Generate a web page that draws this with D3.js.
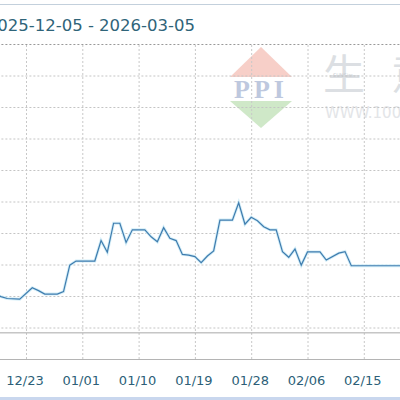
<!DOCTYPE html>
<html><head><meta charset="utf-8">
<script src="https://cdn.jsdelivr.net/npm/d3@7"></script>
<style>body{margin:0;background:#fff;overflow:hidden}</style></head>
<body>
<svg id="c" width="400" height="400"></svg>
<script>
const titleText = "2025-12-05 - 2026-03-05";
const dates = ["2025-12-17","2025-12-19","2025-12-20","2025-12-22","2025-12-24","2025-12-25","2025-12-26","2025-12-28","2025-12-29","2025-12-30","2025-12-31","2026-01-03","2026-01-04","2026-01-05","2026-01-06","2026-01-07","2026-01-08","2026-01-09","2026-01-11","2026-01-12","2026-01-13","2026-01-14","2026-01-15","2026-01-16","2026-01-17","2026-01-18","2026-01-19","2026-01-20","2026-01-21","2026-01-22","2026-01-23","2026-01-25","2026-01-26","2026-01-27","2026-01-28","2026-01-29","2026-01-30","2026-01-31","2026-02-01","2026-02-02","2026-02-03","2026-02-04","2026-02-05","2026-02-06","2026-02-08","2026-02-09","2026-02-11","2026-02-12","2026-02-13","2026-02-20","2026-03-05"];
const values = [4213,4198,4192,4190,4226,4217,4206,4206,4214,4298,4311,4311,4376,4339,4431,4431,4370,4410,4410,4388,4372,4417,4383,4376,4332,4330,4325,4306,4327,4343,4441,4441,4496,4428,4450,4439,4420,4410,4410,4341,4323,4349,4298,4340,4340,4314,4336,4341,4296,4296,4296];
const tickDates = ["2025-12-05","2025-12-14","2025-12-23","2026-01-01","2026-01-10","2026-01-19","2026-01-28","2026-02-06","2026-02-15","2026-02-24","2026-03-05"];
const yGrid = [4000,4100,4200,4300,4400,4500,4600,4700,4800,4900,5000];
const refValue = 4083;

const parse = d3.timeParse("%Y-%m-%d");
const fmt = d3.timeFormat("%m/%d");
const svg = d3.select("#c");

const pLeft = -86.6, pRight = 476.4, pTop = 44, pBottom = 359;
const x = d3.scaleTime().domain([parse("2025-12-05"), parse("2026-03-05")]).range([pLeft, pRight]);
const y = d3.scaleLinear().domain([4000, 5000]).range([pBottom, pTop]);

// outer frame
svg.append("line").attr("x1",0).attr("x2",400).attr("y1",4.5).attr("y2",4.5).attr("stroke","#c3d0dc").attr("stroke-width",1);
svg.append("rect").attr("x",0).attr("y",397).attr("width",400).attr("height",3).attr("fill","#c9d7ee");

// title
svg.append("text").attr("x",195).attr("y",31).attr("text-anchor","end")
  .attr("font-family","DejaVu Sans").attr("font-size",16.5).attr("fill","#2f6479").text(titleText);

// watermark
const wm = svg.append("g").attr("opacity",0.55);
wm.append("path").attr("d","M261,47 L292,77 L230,77 Z").attr("fill","#f2a99c");
wm.append("path").attr("d","M230,101 L292,101 L261,128 Z").attr("fill","#a9d69c");
wm.append("text").attr("x",261).attr("y",98).attr("text-anchor","middle").attr("font-family","Liberation Serif")
  .attr("font-weight","bold").attr("font-size",26).attr("letter-spacing",4).attr("fill","#8a9cc4").text("PPI");
svg.append("text").attr("x",323).attr("y",90).attr("font-family","Noto Sans CJK SC").attr("font-size",42)
  .attr("letter-spacing",26).attr("fill","#dcdfe3").text("生意社");
svg.append("text").attr("x",333).attr("y",77).attr("font-family","DejaVu Sans").attr("font-size",5)
  .attr("fill","#c8ccd2").text("SUNSirs");
svg.append("text").attr("x",325).attr("y",118).attr("font-family","DejaVu Sans").attr("font-size",15)
  .attr("fill","#e3e5e8").text("WWW.100ppi.com");

// horizontal grid
const hg = svg.append("g").attr("transform",`translate(${pLeft},0)`)
  .call(d3.axisLeft(y).tickValues(yGrid).tickSize(-(pRight-pLeft)).tickFormat(""));
hg.select(".domain").remove();
hg.selectAll(".tick line").attr("stroke","#c4c4c4").attr("stroke-dasharray","2,2");
hg.selectAll(".tick").filter(d => d === 5000).select("line").attr("stroke","#999");
hg.selectAll(".tick").filter(d => d === 4000).select("line").attr("stroke","#b4b4b4").attr("stroke-dasharray",null);

// vertical grid
const vg = svg.append("g").attr("transform",`translate(0,${pBottom})`)
  .call(d3.axisBottom(x).tickValues(tickDates.map(parse)).tickSize(-(pBottom-pTop)).tickFormat(""));
vg.select(".domain").remove();
vg.selectAll(".tick line").attr("stroke","#c8c8c8").attr("stroke-dasharray","2,2");

// reference line
svg.append("line").attr("x1",pLeft).attr("x2",pRight).attr("y1",y(refValue)).attr("y2",y(refValue))
  .attr("stroke","#a8a8a8").attr("stroke-width",1);

// x labels
const xa = svg.append("g").attr("transform",`translate(-1.5,${pBottom})`)
  .call(d3.axisBottom(x).tickValues(tickDates.map(parse)).tickSize(0).tickPadding(17).tickFormat(fmt));
xa.select(".domain").remove();
xa.selectAll("text").attr("font-family","DejaVu Sans").attr("font-size",13).attr("fill","#2d5f78");

// line
const data = dates.map((d,i)=>({d:parse(d), v:values[i]}));
const line = d3.line().x(p=>x(p.d)).y(p=>y(p.v));
svg.append("path").datum(data).attr("d",line).attr("fill","none").attr("stroke","#d4eef8").attr("stroke-width",3);
svg.append("path").datum(data).attr("d",line).attr("fill","none").attr("stroke","#3f7cae").attr("stroke-width",1.2);
</script>
</body></html>
